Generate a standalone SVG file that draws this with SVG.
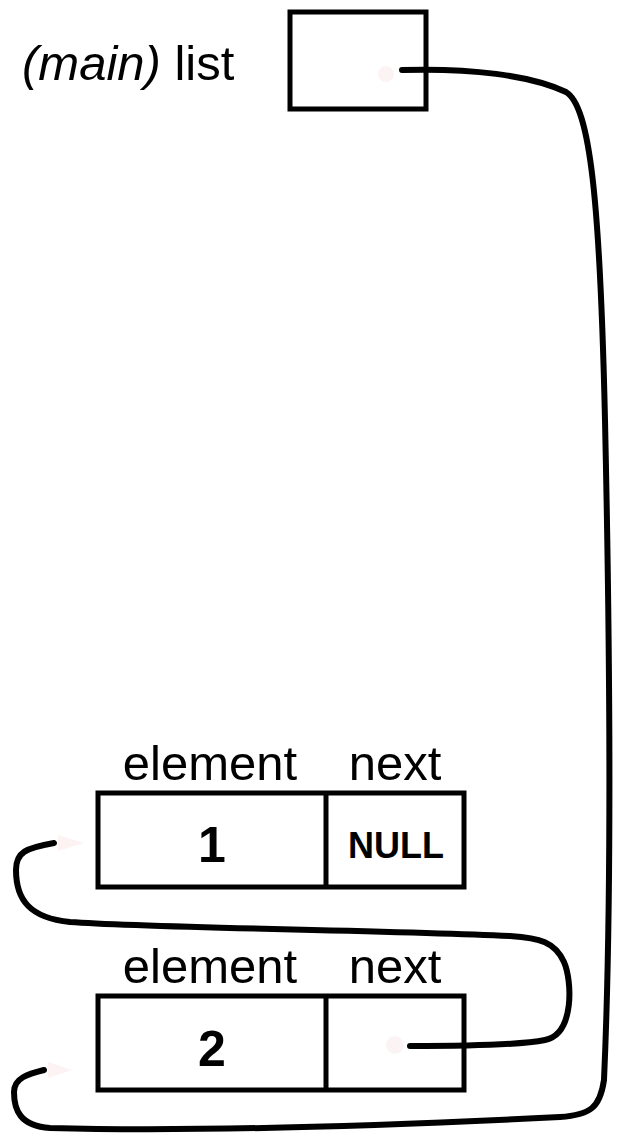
<svg xmlns="http://www.w3.org/2000/svg" width="627" height="1138" viewBox="0 0 627 1138">
<style>
.box{fill:#fff;stroke:#000;stroke-width:5}
.lbl{font-family:"Liberation Sans",Arial,sans-serif;font-size:49px;fill:#000}
.val{font-family:"Liberation Sans",Arial,sans-serif;font-weight:bold;fill:#000;text-anchor:middle}
.wire{fill:none;stroke:#000;stroke-width:6;stroke-linecap:round}
.dot{fill:#fcf4f4}
.tip{fill:#fdf3f3}
</style>
<rect width="627" height="1138" fill="#fff"/>
<g id="main-list">
<text class="lbl" x="22" y="80"><tspan font-style="italic">(main)</tspan> list</text>
<rect class="box" x="290" y="12" width="136" height="97"/>
<circle class="dot" cx="386" cy="74" r="8"/>
</g>
<g id="node1">
<text class="lbl" x="210" y="780" text-anchor="middle">element</text>
<text class="lbl" x="395" y="780" text-anchor="middle">next</text>
<rect class="box" x="98" y="793" width="366" height="94"/>
<line x1="326" y1="793" x2="326" y2="887" stroke="#000" stroke-width="5"/>
<text class="val" x="212" y="862" font-size="50">1</text>
<text class="val" x="396" y="858" font-size="36">NULL</text>
</g>
<g id="node2">
<text class="lbl" x="210" y="983" text-anchor="middle">element</text>
<text class="lbl" x="395" y="983" text-anchor="middle">next</text>
<rect class="box" x="98" y="996" width="366" height="94"/>
<line x1="326" y1="996" x2="326" y2="1090" stroke="#000" stroke-width="5"/>
<text class="val" x="212" y="1066" font-size="50">2</text>
<circle class="dot" cx="395" cy="1045" r="9"/>
</g>
<g id="connectors">
<path class="wire" d="M402,70 C470,68 530,75 566,92 C590,106 600,200 605,420 C610,650 612,900 604,1080 C600,1108 590,1115 560,1117 C400,1125 200,1132 50,1128 C20,1126 14,1110 14,1092 C14,1078 28,1074 44,1070"/>
<polygon class="tip" points="48,1062 72,1070 48,1078"/>
<path class="wire" d="M410,1046 C470,1046 520,1045 545,1040 C575,1034 572,980 564,962 C555,942 540,938 510,936 C380,930 150,928 70,922 C30,918 16,900 16,870 C16,852 26,848 54,843"/>
<polygon class="tip" points="58,835 84,843 58,851"/>
</g>
</svg>
